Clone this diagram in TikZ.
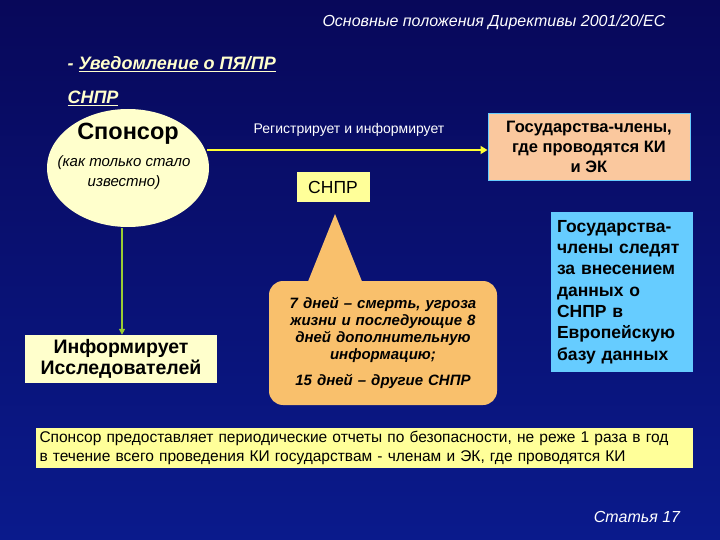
\documentclass[tikz,border=0pt]{standalone}
\usepackage{fontspec}
\setmainfont{Liberation Sans}
\usetikzlibrary{shapes.geometric,arrows.meta}
\definecolor{bgtop}{HTML}{08085A}
\definecolor{bgbot}{HTML}{0A1A8C}
\definecolor{lyel}{HTML}{FFFFCC}
\definecolor{yel}{HTML}{FFFF99}
\definecolor{arr}{HTML}{FFFF33}
\definecolor{peach}{HTML}{FAC89E}
\definecolor{orng}{HTML}{F9C06C}
\definecolor{sky}{HTML}{66CCFF}
\definecolor{grn}{HTML}{99CC33}
\definecolor{headc}{HTML}{FFFFCC}
\tikzset{
 wtext/.style={text=white,font=\itshape\fontsize{16}{18}\selectfont},
 head/.style={anchor=west,text=headc,font=\bfseries\itshape\fontsize{18}{20}\selectfont},
}
\begin{document}
\begin{tikzpicture}[x=1pt,y=-1pt]
\shade[top color=bgtop,bottom color=bgbot] (0,0) rectangle (720,540);
\useasboundingbox (0,0) rectangle (720,540);
\node[wtext] (title) at (494,22) {Основные положения Директивы 2001/20/ЕС};
\node[head] (h1) at (64,64) {- \underline{Уведомление о ПЯ/ПР}};
\node[head] (h2) at (64,98) {\underline{СНПР}};
\node[ellipse,fill=lyel,minimum width=162,minimum height=118] (sp) at (128,168) {};
\node[font=\bfseries\fontsize{23.5}{26}\selectfont] (spt) at (128,134) {Спонсор};
\node[font=\itshape\fontsize{15}{20}\selectfont,align=center] (spi) at (124,173) {(как только стало\\известно)};
\node[fill=peach,draw=sky,line width=1pt,minimum width=202,minimum height=67,align=center,font=\bfseries\fontsize{16.5}{20}\selectfont] (ms) at (589,147) {Государства-члены,\\где проводятся КИ\\и ЭК};
\draw[arr,line width=2.5pt,-{Triangle[length=7pt,width=8pt]}] (207,150) -- (ms.west |- 0,150);
\node[text=white,font=\fontsize{14}{16}\selectfont] (reg) at (349,130) {Регистрирует и информирует};
\node[fill=yel,minimum width=73,minimum height=30,font=\fontsize{17.5}{20}\selectfont] (snpr) at (333,187) {СНПР};
\fill[orng] (307,284) -- (335,214) -- (363,284) -- cycle;
\node[fill=orng,rounded corners=14pt,minimum width=228,minimum height=124,text width=205,align=center,font=\bfseries\itshape\fontsize{15}{17}\selectfont] (call) at (383,343) {7 дней – смерть, угроза жизни и последующие 8 дней дополнительную информацию;\\[9pt]15 дней – другие СНПР};
\node[fill=sky,minimum width=141,minimum height=159,text width=130,inner xsep=6pt,align=left,font=\bfseries\fontsize{17.5}{21.3}\selectfont] (eu) at (622,292) {Государства-\\члены следят\\за внесением\\данных о\\СНПР в\\Европейскую\\базу данных};
\node[fill=lyel,minimum width=192,minimum height=48,align=center,font=\bfseries\fontsize{19.5}{21}\selectfont] (inf) at (121,359) {Информирует\\ Исследователей};
\draw[grn,line width=1.5pt,-{Triangle[length=6pt,width=6pt]}] (122,228) -- (inf.north -| 122,0);
\node[fill=yel,minimum width=657,minimum height=33,text width=649,inner xsep=4pt,align=left,font=\fontsize{15.5}{19}\selectfont] (bot) at (364,448) {Спонсор предоставляет периодические отчеты по безопасности, не реже 1 раза в год\\в течение всего проведения КИ государствам - членам и ЭК, где проводятся КИ};
\node[wtext] (art) at (637,517) {Статья 17};
\end{tikzpicture}
\end{document}
